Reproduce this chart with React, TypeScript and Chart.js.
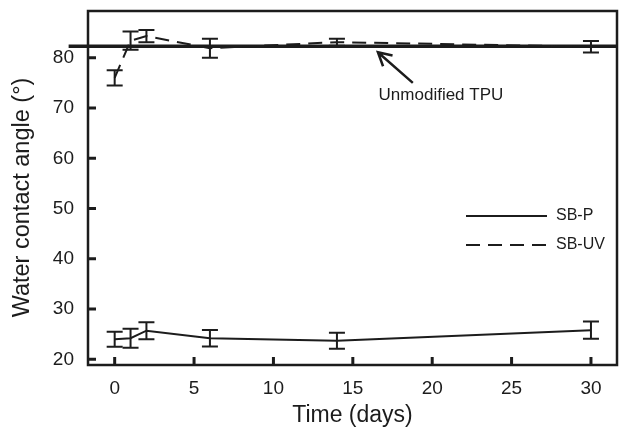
import React, { useEffect, useRef } from "react";
import { Chart, registerables } from "chart.js";

Chart.register(...registerables);

// ---- data ----
const days = [0, 1, 2, 6, 14, 30];
const sbpValues = [24.0, 24.2, 25.7, 24.2, 23.7, 25.8];
const sbpErrors = [1.5, 1.9, 1.7, 1.65, 1.6, 1.7];
const sbuvValues = [76.0, 83.4, 84.3, 81.9, 83.1, 82.2];
const sbuvErrors = [1.5, 1.8, 1.2, 1.9, 0.7, 1.15];
const tpuValue = 82.3;
const tpuXRange = [-2.9, 31.64];
const xTicks = [0, 5, 10, 15, 20, 25, 30];
const yTicks = [20, 30, 40, 50, 60, 70, 80];
const xRange = [-1.68, 31.64];
const yRange = [18.87, 89.3];
const xTitle = "Time (days)";
const yTitle = "Water contact angle (°)";
// annotation (data coordinates)
const arrowTip = { x: 16.58, y: 81.1 };
const arrowTail = { x: 18.78, y: 75.0 };
const annotationText = "Unmodified TPU";
const annotationPos = { x: 20.55, y: 72.6 };

const INK = "#1c1c1c";
const FONT = "'Liberation Sans', Arial, Helvetica, sans-serif";

const errorBarPlugin = {
  id: "errorBars",
  afterDatasetsDraw(chart: any) {
    const { ctx, scales } = chart;
    const xs = scales.x;
    const ys = scales.y;
    const sets = [
      { v: sbpValues, e: sbpErrors },
      { v: sbuvValues, e: sbuvErrors },
    ];
    ctx.save();
    ctx.strokeStyle = INK;
    ctx.lineWidth = 2;
    ctx.setLineDash([]);
    const cap = 8;
    sets.forEach((s) => {
      s.v.forEach((val, i) => {
        const px = xs.getPixelForValue(days[i]);
        const top = ys.getPixelForValue(val + s.e[i]);
        const bot = ys.getPixelForValue(val - s.e[i]);
        ctx.beginPath();
        ctx.moveTo(px, top);
        ctx.lineTo(px, bot);
        ctx.moveTo(px - cap, top);
        ctx.lineTo(px + cap, top);
        ctx.moveTo(px - cap, bot);
        ctx.lineTo(px + cap, bot);
        ctx.stroke();
      });
    });
    ctx.restore();
  },
};

const framePlugin = {
  id: "frame",
  afterDraw(chart: any) {
    const { ctx, chartArea: a, scales } = chart;
    ctx.save();
    ctx.strokeStyle = INK;
    ctx.setLineDash([]);
    // inward ticks
    ctx.lineWidth = 3;
    const tl = 8;
    ctx.beginPath();
    xTicks.forEach((v) => {
      const px = scales.x.getPixelForValue(v);
      ctx.moveTo(px, a.bottom);
      ctx.lineTo(px, a.bottom - tl);
    });
    yTicks.forEach((v) => {
      const py = scales.y.getPixelForValue(v);
      ctx.moveTo(a.left, py);
      ctx.lineTo(a.left + tl, py);
    });
    ctx.stroke();
    ctx.lineWidth = 2.5;
    ctx.strokeRect(a.left, a.top, a.right - a.left, a.bottom - a.top);

    // y title
    ctx.fillStyle = INK;
    ctx.save();
    ctx.translate(a.left - 65.5, (a.top + a.bottom) / 2 + 9.5);
    ctx.rotate(-Math.PI / 2);
    ctx.font = `23.5px ${FONT}`;
    ctx.textAlign = "center";
    ctx.textBaseline = "middle";
    ctx.fillText(yTitle, 0, 0);
    ctx.restore();

    // annotation arrow
    const tx = scales.x.getPixelForValue(arrowTip.x);
    const ty = scales.y.getPixelForValue(arrowTip.y);
    const sx = scales.x.getPixelForValue(arrowTail.x);
    const sy = scales.y.getPixelForValue(arrowTail.y);
    ctx.lineWidth = 2.5;
    ctx.beginPath();
    ctx.moveTo(sx, sy);
    ctx.lineTo(tx, ty);
    const ang = Math.atan2(sy - ty, sx - tx);
    const wing = 15;
    const spread = 0.5;
    ctx.moveTo(tx + wing * Math.cos(ang - spread), ty + wing * Math.sin(ang - spread));
    ctx.lineTo(tx, ty);
    ctx.lineTo(tx + wing * Math.cos(ang + spread), ty + wing * Math.sin(ang + spread));
    ctx.stroke();
    ctx.font = `17px ${FONT}`;
    ctx.textAlign = "center";
    ctx.textBaseline = "middle";
    ctx.fillText(
      annotationText,
      scales.x.getPixelForValue(annotationPos.x),
      scales.y.getPixelForValue(annotationPos.y)
    );

    // legend
    const items = chart.data.datasets.filter((d: any) => d.showInLegend);
    const lx = a.left + 378;
    const ly0 = a.top + 205;
    const gap = 29;
    ctx.font = `16px ${FONT}`;
    ctx.textAlign = "left";
    items.forEach((d: any, i: number) => {
      const y = ly0 + i * gap;
      ctx.lineWidth = 2;
      ctx.setLineDash(d.borderDash || []);
      ctx.beginPath();
      ctx.moveTo(lx, y);
      ctx.lineTo(lx + 81, y);
      ctx.stroke();
      ctx.setLineDash([]);
      ctx.fillText(d.label, lx + 90, y);
    });
    ctx.restore();
  },
};

export default function App() {
  const ref = useRef<HTMLCanvasElement | null>(null);
  useEffect(() => {
    if (!ref.current) return;
    const chart = new Chart(ref.current, {
      type: "line",
      data: {
        datasets: [
          {
            label: "SB-P",
            showInLegend: true,
            data: days.map((d, i) => ({ x: d, y: sbpValues[i] })),
            borderColor: INK,
            borderWidth: 2,
            pointRadius: 0,
            tension: 0,
          } as any,
          {
            label: "SB-UV",
            showInLegend: true,
            data: days.map((d, i) => ({ x: d, y: sbuvValues[i] })),
            borderColor: INK,
            borderWidth: 2,
            borderDash: [14, 8],
            pointRadius: 0,
            tension: 0,
          } as any,
          {
            label: "Unmodified TPU",
            data: tpuXRange.map((x) => ({ x, y: tpuValue })),
            borderColor: INK,
            borderWidth: 3.5,
            pointRadius: 0,
            clip: false,
          } as any,
        ],
      },
      options: {
        animation: false,
        responsive: false,
        maintainAspectRatio: false,
        layout: { padding: { left: 0, right: 2, top: 11, bottom: 0 } },
        plugins: { legend: { display: false }, tooltip: { enabled: false } },
        scales: {
          x: {
            type: "linear",
            min: xRange[0],
            max: xRange[1],
            grid: { display: false, drawTicks: false },
            border: { display: false },
            afterBuildTicks: (s: any) => {
              s.ticks = xTicks.map((v) => ({ value: v }));
            },
            afterFit: (s: any) => {
              s.height = 64;
              s.paddingLeft = 0;
              s.paddingRight = 0;
            },
            ticks: {
              color: INK,
              padding: 12,
              font: { family: FONT, size: 19 },
              maxRotation: 0,
            },
            title: {
              display: true,
              text: xTitle,
              color: INK,
              font: { family: FONT, size: 23 },
              padding: { top: 0, bottom: 0 },
            },
          },
          y: {
            type: "linear",
            min: yRange[0],
            max: yRange[1],
            grid: { display: false, drawTicks: false },
            border: { display: false },
            afterBuildTicks: (s: any) => {
              s.ticks = yTicks.map((v) => ({ value: v }));
            },
            afterFit: (s: any) => {
              s.width = 88;
              s.paddingTop = 0;
              s.paddingBottom = 0;
            },
            ticks: {
              color: INK,
              padding: 14,
              font: { family: FONT, size: 19 },
            },
            title: { display: false },
          },
        },
      },
      plugins: [errorBarPlugin, framePlugin],
    } as any);
    return () => chart.destroy();
  }, []);
  return (
    <div style={{ position: "fixed", left: 0, top: 0, width: 619, height: 429, background: "#fff" }}>
      <canvas ref={ref} width={619} height={429} />
    </div>
  );
}
